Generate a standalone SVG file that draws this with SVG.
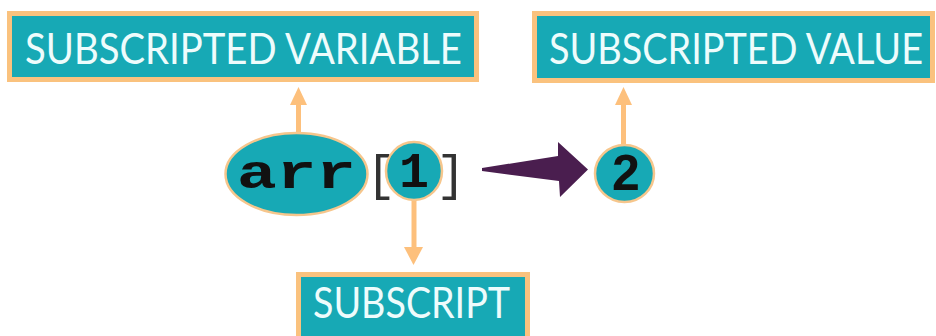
<svg xmlns="http://www.w3.org/2000/svg" width="936" height="336" viewBox="0 0 936 336">
<style>
.box{fill:#17A9B5;stroke:#FAC27E;stroke-width:5}
.btxt{font-family:Lato,"Open Sans",sans-serif;font-size:39px;fill:#EEFCFC}
.node{fill:#17A9B5;stroke:#F6C68C;stroke-width:2.5}
.code{font-family:"Liberation Mono","Courier New",monospace;font-weight:bold;fill:#111}
.br{font-family:"Liberation Mono","Courier New",monospace;font-size:50px;fill:#333}
.orange{stroke:#FDC07C;stroke-width:5;fill:none}
.ohead{fill:#FDC07C}
</style>
<rect width="936" height="336" fill="#fff"/>
<g id="connectors">
  <line class="orange" x1="298.5" y1="104" x2="298.5" y2="134"/>
  <polygon class="ohead" points="298.5,87 290,105 307,105"/>
  <line class="orange" x1="623.5" y1="104" x2="623.5" y2="146"/>
  <polygon class="ohead" points="623.5,87 615,105 632,105"/>
  <line class="orange" x1="414" y1="198" x2="414" y2="249"/>
  <polygon class="ohead" points="413.5,265 404,247 423,247"/>
  <polygon fill="#4A1E4F" points="482,168 558,156 558,142 588,169.5 560,197 559,181 482,171"/>
</g>
<g id="subscripted-variable">
  <rect class="box" x="9.5" y="13.5" width="467" height="66"/>
  <g transform="translate(25,63.5) scale(1,1.1)">
    <text class="btxt" x="0" y="0" textLength="437" lengthAdjust="spacingAndGlyphs">SUBSCRIPTED VARIABLE</text>
  </g>
</g>
<g id="subscripted-value">
  <rect class="box" x="534.5" y="13.5" width="398" height="67"/>
  <g transform="translate(549,63.5) scale(1,1.1)">
    <text class="btxt" x="0" y="0" textLength="374" lengthAdjust="spacingAndGlyphs">SUBSCRIPTED VALUE</text>
  </g>
</g>
<g id="subscript">
  <rect class="box" x="298.5" y="274.5" width="229" height="80"/>
  <g transform="translate(313,318) scale(1,1.1)">
    <text class="btxt" x="0" y="0" textLength="197" lengthAdjust="spacingAndGlyphs">SUBSCRIPT</text>
  </g>
</g>
<g id="arr">
  <ellipse class="node" cx="296.5" cy="174" rx="71" ry="41"/>
  <text class="code" x="237" y="188" font-size="48" textLength="119" lengthAdjust="spacingAndGlyphs">arr</text>
</g>
<g id="brackets">
  <text class="br" x="366" y="190">[</text>
  <text class="br" x="436" y="190">]</text>
</g>
<g id="index">
  <ellipse class="node" cx="414" cy="171" rx="28" ry="29"/>
  <text class="code" x="414" y="187" font-size="50" text-anchor="middle">1</text>
</g>
<g id="value">
  <ellipse class="node" cx="624.5" cy="173.5" rx="29.5" ry="28.5"/>
  <text x="626" y="190" font-family="'Liberation Sans',Arial,sans-serif" font-weight="bold" font-size="50" text-anchor="middle" fill="#111">2</text>
</g>
</svg>
